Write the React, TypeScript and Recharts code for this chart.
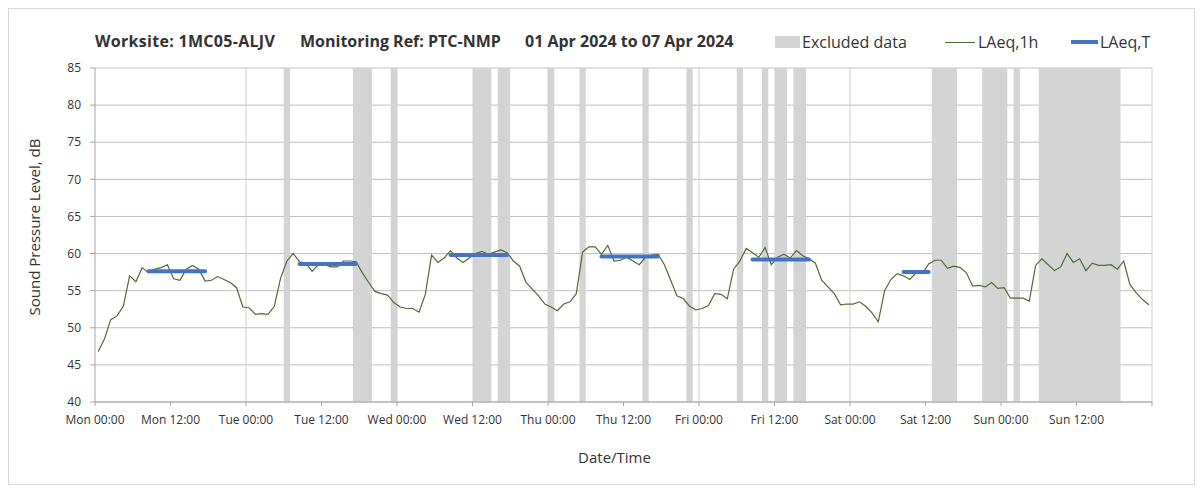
import {
  CartesianGrid,
  ComposedChart,
  Label,
  Line,
  ReferenceArea,
  ReferenceLine,
  XAxis,
  YAxis,
} from 'recharts';

// hourly LAeq,1h values, Mon 00:00 .. Sun 23:00
const laeq1h = [
  46.8, 48.5, 51.1, 51.6, 52.9, 57.0, 56.2, 58.1, 57.4, 57.9, 58.1, 58.5,
  56.6, 56.4, 57.9, 58.4, 57.9, 56.3, 56.4, 56.9, 56.5, 56.1, 55.4, 52.8,
  52.7, 51.8, 51.9, 51.8, 52.9, 56.7, 59.0, 60.0, 58.9, 58.7, 57.6, 58.5,
  58.5, 58.2, 58.2, 59.0, 59.0, 58.9, 57.4, 56.1, 54.9, 54.6, 54.4, 53.4,
  52.8, 52.6, 52.6, 52.1, 54.5, 59.8, 58.8, 59.4, 60.4, 59.4, 58.8, 59.4,
  60.0, 60.3, 59.9, 60.2, 60.5, 60.1, 59.0, 58.3, 56.1, 55.2, 54.3, 53.2,
  52.8, 52.3, 53.2, 53.5, 54.6, 60.2, 60.9, 60.9, 59.9, 61.1, 59.0, 59.1,
  59.5, 59.0, 58.5, 59.5, 59.8, 59.9, 58.5, 56.4, 54.3, 53.9, 52.9, 52.4,
  52.6, 53.0, 54.6, 54.5, 53.9, 57.9, 59.0, 60.7, 60.1, 59.5, 60.8, 58.5,
  59.5, 59.9, 59.4, 60.4, 59.7, 59.3, 58.7, 56.4, 55.5, 54.6, 53.1, 53.2,
  53.2, 53.5, 52.9, 52.0, 50.8, 55.0, 56.5, 57.3, 57.0, 56.5, 57.4, 57.3,
  58.6, 59.1, 59.1, 58.0, 58.3, 58.1, 57.4, 55.6, 55.7, 55.5, 56.1, 55.3,
  55.4, 54.0, 54.0, 54.0, 53.6, 58.4, 59.3, 58.5, 57.7, 58.2, 60.0, 58.8,
  59.3, 57.7, 58.7, 58.4, 58.4, 58.5, 57.9, 59.0, 55.8, 54.7, 53.8, 53.1,
];

// LAeq,T periods (hour index from Mon 00:00)
const laeqTStart = [8, 32, 56, 80, 104, 128];
const laeqTEnd = [17, 41, 65, 89, 113, 132];
const laeqTValue = [57.6, 58.6, 59.8, 59.6, 59.2, 57.5];

// excluded data (hour ranges)
const excludedStart = [30, 41, 47, 60, 64, 72, 77, 87, 94, 102, 106, 108, 111, 133, 141, 146, 150];
const excludedEnd = [31, 44, 48, 63, 66, 73, 78, 88, 95, 103, 107, 110, 113, 137, 145, 147, 163];

const xTicks = [0, 12, 24, 36, 48, 60, 72, 84, 96, 108, 120, 132, 144, 156, 168];
const xTickLabels = [
  'Mon 00:00', 'Mon 12:00', 'Tue 00:00', 'Tue 12:00', 'Wed 00:00', 'Wed 12:00',
  'Thu 00:00', 'Thu 12:00', 'Fri 00:00', 'Fri 12:00', 'Sat 00:00', 'Sat 12:00',
  'Sun 00:00', 'Sun 12:00', '',
];
const dayLines = [24, 48, 72, 96, 120, 144, 168];
const yTicks = [40, 45, 50, 55, 60, 65, 70, 75, 80, 85];

const data = laeq1h.map((v, i) => {
  let t: number | null = null;
  laeqTStart.forEach((s, k) => {
    if (i >= s && i <= laeqTEnd[k]) t = laeqTValue[k];
  });
  return { hour: i + 0.5, laeq1h: v, laeqT: t };
});

const textColor = '#333333';

export default function App() {
  return (
    <div
      style={{
        position: 'relative',
        width: 1185,
        height: 475,
        border: '1px solid #d9d9d9',
        fontFamily: '"Open Sans", sans-serif',
        color: textColor,
      }}
    >
      <div style={{ position: 'absolute', top: 21, left: 86, fontSize: 16, fontWeight: 700, lineHeight: '22px', whiteSpace: 'nowrap' }}>
        <span style={{ position: 'absolute', left: 0, letterSpacing: 0.3 }}>Worksite: 1MC05-ALJV</span>
        <span style={{ position: 'absolute', left: 205 }}>Monitoring Ref: PTC-NMP</span>
        <span style={{ position: 'absolute', left: 430 }}>01 Apr 2024 to 07 Apr 2024</span>
      </div>

      <div style={{ position: 'absolute', top: 22, left: 0, fontSize: 16, lineHeight: '22px', whiteSpace: 'nowrap' }}>
        <div style={{ position: 'absolute', left: 766, top: 5, width: 25, height: 12, background: '#d4d4d4' }} />
        <span style={{ position: 'absolute', left: 793 }}>Excluded data</span>
        <div style={{ position: 'absolute', left: 936, top: 11, width: 30, height: 1, background: '#4f6b35' }} />
        <span style={{ position: 'absolute', left: 969 }}>LAeq,1h</span>
        <div style={{ position: 'absolute', left: 1062, top: 9, width: 27, height: 4, background: '#4472c4' }} />
        <span style={{ position: 'absolute', left: 1091 }}>LAeq,T</span>
      </div>

      <ComposedChart
        width={1185}
        height={475}
        data={data}
        margin={{ top: 59, right: 42, bottom: 52, left: 6 }}
      >
        <CartesianGrid vertical={false} stroke='#bfbfbf' />
        {excludedStart.map((s, k) => (
          <ReferenceArea
            key={k}
            x1={s}
            x2={excludedEnd[k]}
            fill='#d4d4d4'
            fillOpacity={1}
            stroke='none'
          />
        ))}
        {dayLines.map((d) => (
          <ReferenceLine key={d} x={d} stroke='#d0d0d0' />
        ))}
        <XAxis
          type='number'
          dataKey='hour'
          domain={[0, 168]}
          ticks={xTicks}
          interval={0}
          tickFormatter={(v) => xTickLabels[xTicks.indexOf(v)]}
          height={30}
          tickSize={4}
          tickMargin={9}
          stroke='#a6a6a6'
          tick={{ fontSize: 12, fill: textColor }}
        >
          <Label value='Date/Time' position='bottom' offset={20} dx={-9} style={{ fontSize: 15, fill: textColor }} />
        </XAxis>
        <YAxis
          type='number'
          domain={[40, 85]}
          ticks={yTicks}
          interval={0}
          width={80}
          tickSize={5}
          tickMargin={9}
          stroke='#a6a6a6'
          tick={{ fontSize: 12, fill: textColor }}
        >
          <Label
            value='Sound Pressure Level, dB'
            angle={-90}
            position='insideLeft'
            offset={20}
            dy={-8}
            style={{ textAnchor: 'middle', fontSize: 15, fill: textColor }}
          />
        </YAxis>
        <Line
          type='linear'
          dataKey='laeq1h'
          stroke='#4f6b35'
          strokeWidth={1.2}
          dot={false}
          isAnimationActive={false}
        />
        <Line
          type='linear'
          dataKey='laeqT'
          stroke='#4472c4'
          strokeWidth={4}
          strokeLinecap='round'
          dot={false}
          isAnimationActive={false}
        />
      </ComposedChart>
    </div>
  );
}
